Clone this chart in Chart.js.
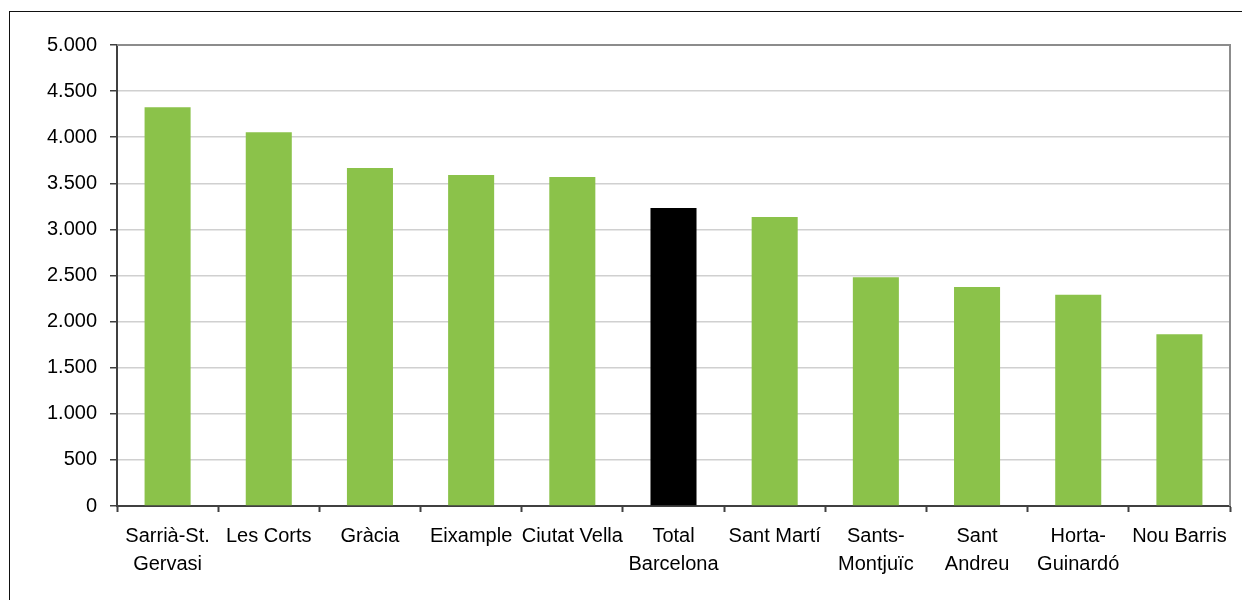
<!DOCTYPE html>
<html>
<head>
<meta charset="utf-8">
<script src="https://cdn.jsdelivr.net/npm/chart.js@4/dist/chart.umd.min.js"></script>
<style>
  html, body { margin: 0; padding: 0; background: #fff; overflow: hidden; }
  #wrap { position: relative; width: 1242px; height: 600px; }
  #frame { position: absolute; left: 9px; top: 11px; width: 1400px; height: 800px; border: 1px solid #111; }
  #chart { position: absolute; left: 0; top: 0; }
</style>
</head>
<body>
<div id="wrap">
  <div id="frame"></div>
  <canvas id="chart" width="1242" height="600"></canvas>
</div>
<script>
// districtes i valors
const districtes = [
  ["Sarrià-St.", "Gervasi"], "Les Corts", "Gràcia", "Eixample", "Ciutat Vella",
  ["Total", "Barcelona"], "Sant Martí", ["Sants-", "Montjuïc"], ["Sant", "Andreu"],
  ["Horta-", "Guinardó"], "Nou Barris"
];
const valors = [4325, 4055, 3665, 3590, 3568, 3232, 3135, 2482, 2375, 2290, 1862];
const colors = ["#8BC24A", "#8BC24A", "#8BC24A", "#8BC24A", "#8BC24A", "#000000",
  "#8BC24A", "#8BC24A", "#8BC24A", "#8BC24A", "#8BC24A"];

const yMin = 0, yMax = 5000, yStep = 500;

function fmt(v) {
  return String(v).replace(/\B(?=(\d{3})+(?!\d))/g, ".");
}

// vora gris a dalt i a la dreta de l'àrea
const plotBorder = {
  id: "plotBorder",
  afterDatasetsDraw(chart) {
    const { ctx, chartArea: a } = chart;
    ctx.save();
    ctx.strokeStyle = "#8c8c8c";
    ctx.lineWidth = 2;
    ctx.beginPath();
    ctx.moveTo(a.left, a.top);
    ctx.lineTo(a.right, a.top);
    ctx.lineTo(a.right, a.bottom);
    ctx.stroke();
    ctx.restore();
  }
};

new Chart(document.getElementById("chart"), {
  type: "bar",
  data: {
    labels: districtes,
    datasets: [{
      data: valors,
      backgroundColor: colors,
      categoryPercentage: 1,
      barPercentage: 0.455
    }]
  },
  options: {
    responsive: false,
    animation: false,
    layout: { padding: { top: 45, right: 12, left: 0, bottom: 0 } },
    plugins: { legend: { display: false }, tooltip: { enabled: false } },
    scales: {
      x: {
        afterFit(s) { s.height = 94; },
        grid: { offset: true, drawOnChartArea: false, drawTicks: true, tickLength: 6, tickColor: "#404040", tickWidth: 2 },
        border: { color: "#404040", width: 2 },
        ticks: {
          color: "#000",
          font: { family: "'Liberation Sans', Arial, sans-serif", size: 20, lineHeight: 1.4 },
          padding: 10,
          maxRotation: 0,
          autoSkip: false
        }
      },
      y: {
        min: yMin,
        max: yMax,
        afterFit(s) { s.width = 117; },
        grid: { color: "#d0d0d0", lineWidth: 1.5, tickLength: 7, tickColor: "#404040", tickWidth: 1.5 },
        border: { color: "#404040", width: 2 },
        ticks: {
          stepSize: yStep,
          color: "#000",
          font: { family: "'Liberation Sans', Arial, sans-serif", size: 20 },
          padding: 13,
          callback: v => fmt(v)
        }
      }
    }
  },
  plugins: [plotBorder]
});
</script>
</body>
</html>
